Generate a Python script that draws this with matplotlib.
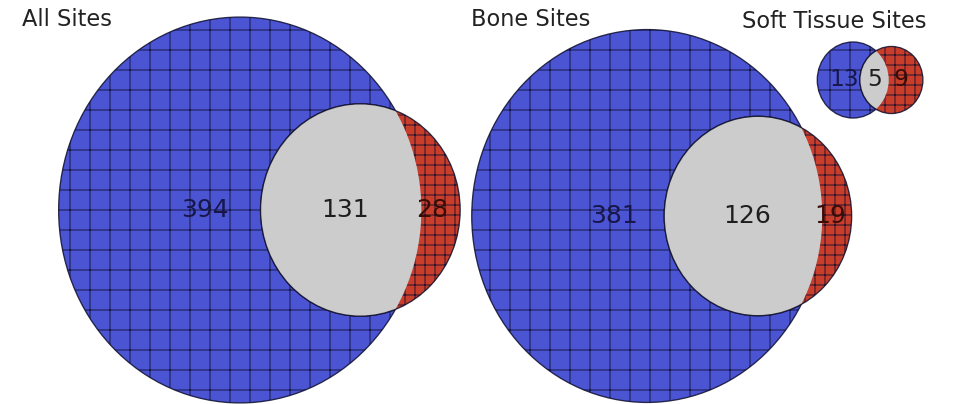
import numpy as np
import matplotlib.pyplot as plt
from matplotlib.patches import Ellipse

# two-set counts per site group: only first set, overlap, only second set
titles = ["All Sites", "Bone Sites", "Soft Tissue Sites"]
only_a = [394, 381, 13]
shared = [131, 126, 5]
only_b = [28, 19, 9]

# layout (pixel space of the figure)
centers_a = [(240, 210), (647, 216), (853, 80)]
scales = [8.42, 8.28, 8.96]          # pixels per sqrt(count)
title_xy = [(22, 20), (471, 20), (742, 21)]
SQ = 0.94                             # horizontal stretch of the drawing

BLUE = "#4b55d4"
RED = "#c93e2a"
GREY = "#cccccc"
EDGE = (0.06, 0.06, 0.18, 0.85)

plt.rcParams["hatch.linewidth"] = 0.6


def lens_area(r1, r2, d):
    if d >= r1 + r2:
        return 0.0
    if d <= abs(r1 - r2):
        return np.pi * min(r1, r2) ** 2
    a1 = r1 ** 2 * np.arccos((d ** 2 + r1 ** 2 - r2 ** 2) / (2 * d * r1))
    a2 = r2 ** 2 * np.arccos((d ** 2 + r2 ** 2 - r1 ** 2) / (2 * d * r2))
    k = np.sqrt((-d + r1 + r2) * (d + r1 - r2) * (d - r1 + r2) * (d + r1 + r2))
    return a1 + a2 - 0.5 * k


def solve_distance(r1, r2, target):
    lo, hi = abs(r1 - r2) + 1e-9, r1 + r2
    for _ in range(100):
        mid = (lo + hi) / 2
        if lens_area(r1, r2, mid) > target:
            lo = mid
        else:
            hi = mid
    return (lo + hi) / 2


def region_centroids(r1, r2, d):
    xs = np.linspace(-r1, d + r2, 600)
    ys = np.linspace(-r1, r1, 600)
    X, Y = np.meshgrid(xs, ys)
    in_a = X ** 2 + Y ** 2 <= r1 ** 2
    in_b = (X - d) ** 2 + Y ** 2 <= r2 ** 2
    out = []
    for m in (in_a & ~in_b, in_a & in_b, in_b & ~in_a):
        out.append((X[m].mean(), Y[m].mean()))
    return out


fig = plt.figure(figsize=(962 / 120, 404 / 120), dpi=120)
ax = fig.add_axes([0, 0, 1, 1])
ax.set_xlim(0, 962)
ax.set_ylim(404, 0)
ax.axis("off")

for i in range(3):
    k = scales[i]
    r1 = k * np.sqrt(only_a[i] + shared[i])
    r2 = k * np.sqrt(only_b[i] + shared[i])
    d = solve_distance(r1, r2, np.pi * k ** 2 * shared[i])
    cx, cy = centers_a[i]

    circ_a = Ellipse((cx, cy), 2 * r1 * SQ, 2 * r1, facecolor=BLUE,
                     edgecolor=EDGE, lw=0.8, hatch="+", zorder=1)
    circ_b = Ellipse((cx + d * SQ, cy), 2 * r2 * SQ, 2 * r2, facecolor=RED,
                     edgecolor=EDGE, lw=0.8, hatch="++", zorder=2)
    overlap = Ellipse((cx + d * SQ, cy), 2 * r2 * SQ, 2 * r2, facecolor=GREY,
                      edgecolor=EDGE, lw=0.8, zorder=3)
    ax.add_patch(circ_a)
    ax.add_patch(circ_b)
    ax.add_patch(overlap)
    overlap.set_clip_path(circ_a)

    fs = 15 if i < 2 else 14
    colors = ["#17174a", "#1e1e1e", "#3a0c06"]
    for (lx, ly), val, col in zip(region_centroids(r1, r2, d),
                                  [only_a[i], shared[i], only_b[i]], colors):
        ax.text(cx + lx * SQ, cy + ly, str(val), ha="center", va="center",
                fontsize=fs, color=col, zorder=5)

    tx, ty = title_xy[i]
    ax.text(tx, ty, titles[i], ha="left", va="center", fontsize=13.5,
            color="#222222")

fig.savefig("out.png", dpi=120)
